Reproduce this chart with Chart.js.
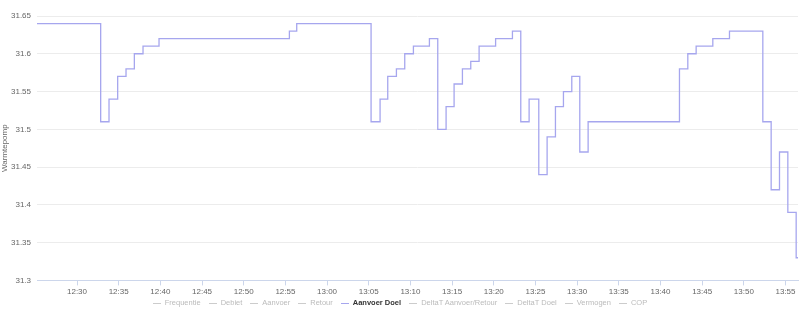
<!DOCTYPE html>
<html lang="nl">
  <head>
    <meta charset="UTF-8" />
    <title>Warmtepomp</title>
    <script src="https://cdn.jsdelivr.net/npm/chart.js"></script>
    <style>
      body { margin: 0; background: #fff; }
      #wrap { position: relative; width: 800px; height: 311px; }
      #legend {
        position: absolute; left: 0; right: 0; top: 297px;
        display: flex; justify-content: center; gap: 8px;
        font-family: Helvetica, "Liberation Sans", Arial, sans-serif;
        font-size: 7.5px; color: #bbb; line-height: 12px;
      }
      #legend span.item { display: flex; align-items: center; }
      #legend span.sym { display: inline-block; width: 8px; height: 1px; margin-right: 4px; background: #ccc; }
      #legend span.on { color: #333; font-weight: bold; }
    </style>
  </head>
  <body>
    <div id="wrap">
      <canvas id="chart"></canvas>
      <div id="legend"></div>
    </div>
    <script>
      // minutes since midnight (12:30 = 750)
      const times = [745.2, 752.84, 753.84, 754.88, 755.88, 756.88, 757.92, 759.84, 775.48, 776.36,
        785.28, 786.36, 787.28, 788.32, 789.32, 790.36, 792.28, 793.28, 794.28, 795.24,
        796.24, 797.24, 798.24, 800.22, 802.24, 803.24, 804.24, 805.4, 806.4, 807.4,
        808.36, 809.36, 810.32, 811.32, 822.28, 823.28, 824.28, 826.28, 828.28, 832.28,
        833.28, 834.28, 835.28, 836.28, 836.5];
      const aanvoerDoel = [31.64, 31.51, 31.54, 31.57, 31.58, 31.6, 31.61, 31.62, 31.63, 31.64,
        31.51, 31.54, 31.57, 31.58, 31.6, 31.61, 31.62, 31.5, 31.53, 31.56,
        31.58, 31.59, 31.61, 31.62, 31.63, 31.51, 31.54, 31.44, 31.49, 31.53,
        31.55, 31.57, 31.47, 31.51, 31.58, 31.6, 31.61, 31.62, 31.63, 31.51,
        31.42, 31.47, 31.39, 31.33, 31.33];
      const seriesNames = ["Frequentie", "Debiet", "Aanvoer", "Retour", "Aanvoer Doel",
        "DeltaT Aanvoer/Retour", "DeltaT Doel", "Vermogen", "COP"];
      const visibleSeries = "Aanvoer Doel";
      const yMin = 31.3, yMax = 31.65, yStep = 0.05;
      const xMin = 745.2, xMax = 836.5, xStep = 5;

      const lineColor = "#a6a6ee";
      const font = { family: 'Helvetica, "Liberation Sans", Arial, sans-serif', size: 8 };

      function fmtTime(m) {
        const h = Math.floor(m / 60);
        const mm = Math.round(m - h * 60);
        return h + ":" + String(mm).padStart(2, "0");
      }

      new Chart(document.getElementById("chart"), {
        type: "line",
        data: {
          datasets: [
            {
              label: visibleSeries,
              data: times.map((t, i) => ({ x: t, y: aanvoerDoel[i] })),
              borderColor: lineColor,
              borderWidth: 1.3,
              stepped: "before",
              pointRadius: 0,
              fill: false,
            },
          ],
        },
        options: {
          responsive: true,
          maintainAspectRatio: false,
          animation: false,
          layout: { padding: { top: 16, bottom: 12, left: 0, right: 2 } },
          plugins: { legend: { display: false }, tooltip: { enabled: false } },
          scales: {
            x: {
              type: "linear",
              min: xMin,
              max: xMax,
              grid: { drawOnChartArea: false, color: "#ccd6eb", tickLength: 5 },
              border: { color: "#ccd6eb" },
              ticks: {
                stepSize: xStep,
                includeBounds: false,
                maxRotation: 0,
                color: "#666",
                font: font,
                padding: 2,
                callback: (v) => fmtTime(v),
              },
            },
            y: {
              min: yMin,
              max: yMax,
              afterFit: (s) => { s.width = 37; },
              grid: { color: "#ececec", drawTicks: false },
              border: { display: false },
              title: { display: true, text: "Warmtepomp", color: "#666", font: font, padding: { top: 0, bottom: 0 } },
              ticks: {
                stepSize: yStep,
                color: "#666",
                font: font,
                padding: 6,
                callback: (v) => String(Number(v.toFixed(2))),
              },
            },
          },
        },
      });

      const legend = document.getElementById("legend");
      seriesNames.forEach((name) => {
        const on = name === visibleSeries;
        const item = document.createElement("span");
        item.className = "item" + (on ? " on" : "");
        const sym = document.createElement("span");
        sym.className = "sym";
        if (on) sym.style.background = lineColor;
        item.appendChild(sym);
        item.appendChild(document.createTextNode(name));
        legend.appendChild(item);
      });
    </script>
  </body>
</html>
